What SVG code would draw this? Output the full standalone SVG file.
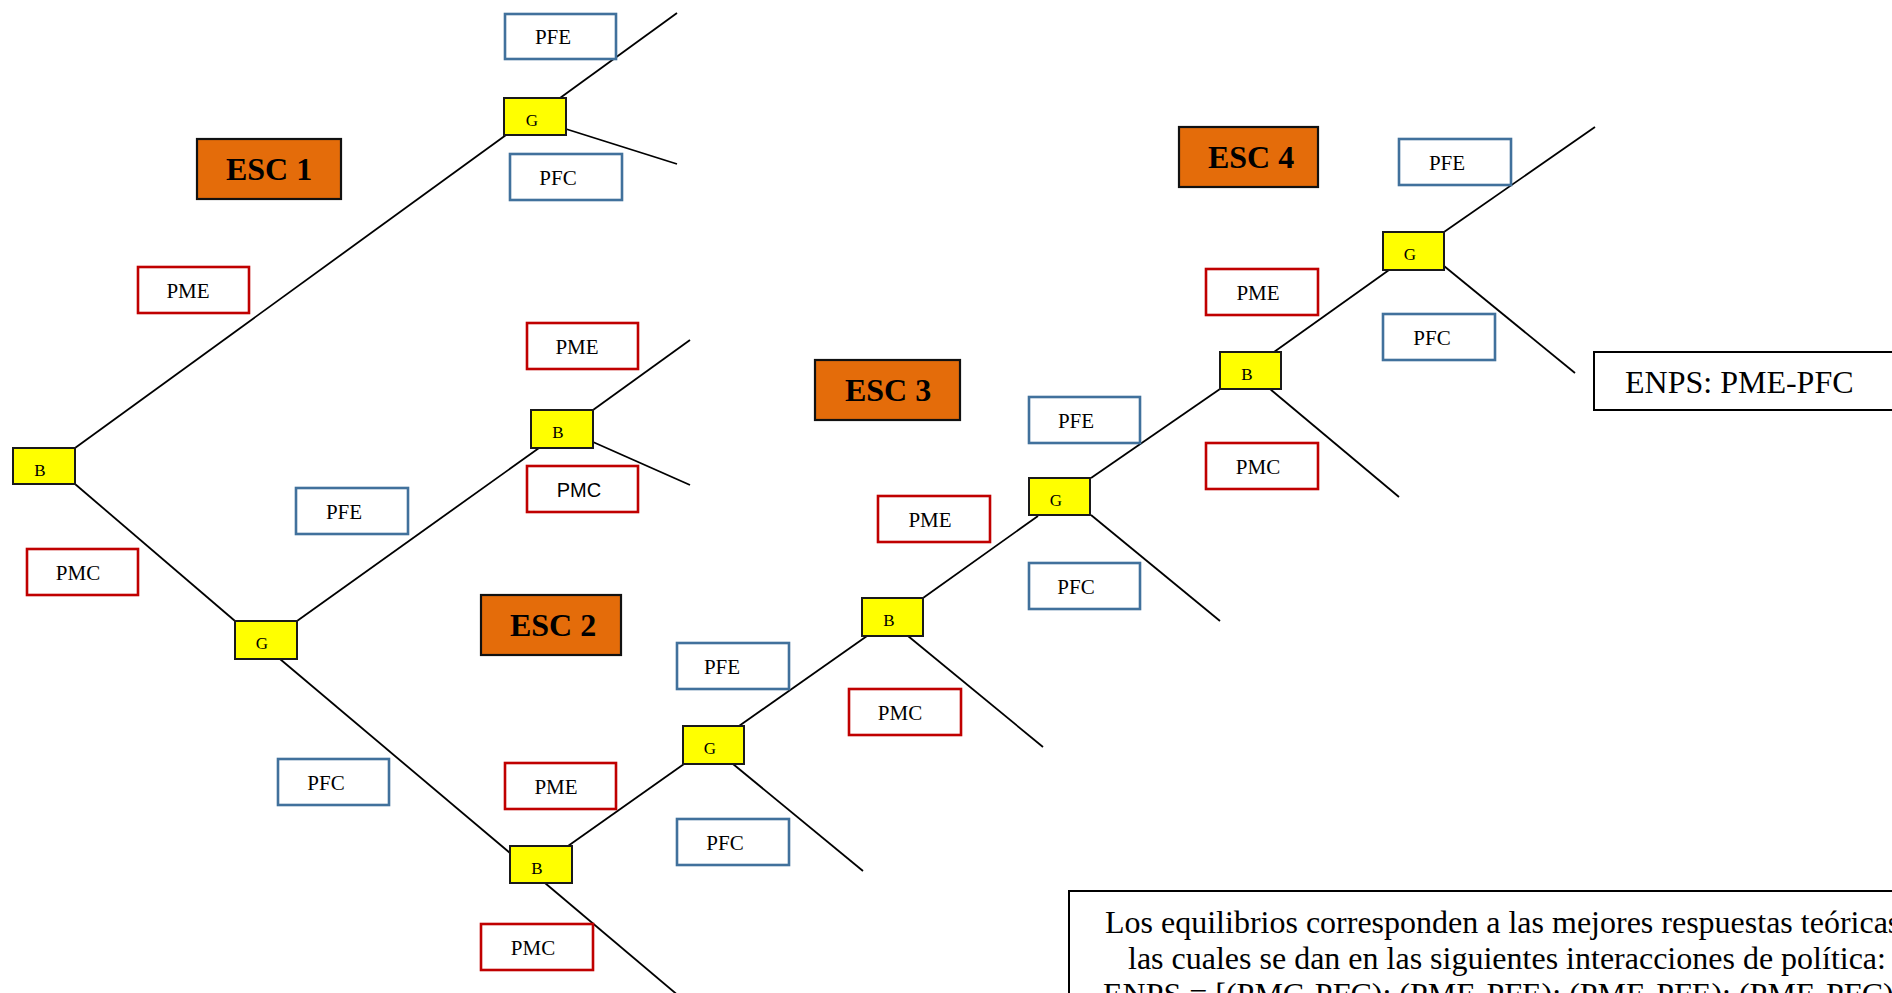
<svg xmlns="http://www.w3.org/2000/svg" width="1892" height="993" viewBox="0 0 1892 993">
<style>
.bg{fill:#ffffff}
.ln{stroke:#000;stroke-width:1.8;fill:none;stroke-linecap:butt}
.nd{fill:#FFFF00;stroke:#1a1a1a;stroke-width:2}
.nt{font-family:"Liberation Serif","Times New Roman",serif;font-size:17px;fill:#000;text-anchor:middle}
.esc{fill:#E46C0A;stroke:#111;stroke-width:2.2}
.et{font-family:"Liberation Serif","Times New Roman",serif;font-size:32px;font-weight:bold;fill:#000;text-anchor:middle}
.lr{fill:#fff;stroke:#C00000;stroke-width:2.6}
.lb{fill:#fff;stroke:#41719C;stroke-width:2.6}
.lt{font-family:"Liberation Serif","Times New Roman",serif;font-size:21px;fill:#000;text-anchor:middle}
.ls{font-family:"Liberation Sans",Arial,sans-serif;font-size:20px;fill:#000;text-anchor:middle}
.bx{fill:#fff;stroke:#000;stroke-width:2}
.bt{font-family:"Liberation Serif","Times New Roman",serif;font-size:32px;fill:#000}
</style>
<rect class="bg" x="0" y="0" width="1892" height="993"/>
<g id="connectors">
<line class="ln" x1="75" y1="448" x2="506" y2="135"/>
<line class="ln" x1="560" y1="98" x2="677" y2="13"/>
<line class="ln" x1="566" y1="129" x2="677" y2="164"/>
<line class="ln" x1="75" y1="484" x2="235" y2="621"/>
<line class="ln" x1="297" y1="621" x2="539" y2="448"/>
<line class="ln" x1="593" y1="410" x2="690" y2="340"/>
<line class="ln" x1="593" y1="442" x2="690" y2="485"/>
<line class="ln" x1="280" y1="659" x2="510" y2="853"/>
<line class="ln" x1="545" y1="883" x2="680" y2="997"/>
<line class="ln" x1="568" y1="846" x2="684" y2="764"/>
<line class="ln" x1="739" y1="726" x2="867" y2="636"/>
<line class="ln" x1="733" y1="764" x2="863" y2="871"/>
<line class="ln" x1="908" y1="636" x2="1043" y2="747"/>
<line class="ln" x1="923" y1="598" x2="1038" y2="516"/>
<line class="ln" x1="1091" y1="478" x2="1220" y2="389"/>
<line class="ln" x1="1091" y1="515" x2="1220" y2="621"/>
<line class="ln" x1="1270" y1="389" x2="1399" y2="497"/>
<line class="ln" x1="1274" y1="352" x2="1389" y2="270"/>
<line class="ln" x1="1444" y1="232" x2="1595" y2="127"/>
<line class="ln" x1="1444" y1="266" x2="1575" y2="373"/>
</g>
<g id="esc1"><rect class="esc" x="197" y="139" width="144" height="60"/><text class="et" x="269" y="180">ESC 1</text></g>
<g id="esc2"><rect class="esc" x="481" y="595" width="140" height="60"/><text class="et" x="553" y="636">ESC 2</text></g>
<g id="esc3"><rect class="esc" x="815" y="360" width="145" height="60"/><text class="et" x="888" y="401">ESC 3</text></g>
<g id="esc4"><rect class="esc" x="1179" y="127" width="139" height="60"/><text class="et" x="1251" y="168">ESC 4</text></g>
<g id="n-b1"><rect class="nd" x="13" y="448" width="62" height="36"/><text class="nt" x="40" y="476">B</text></g>
<g id="n-g1"><rect class="nd" x="504" y="98" width="62" height="37"/><text class="nt" x="532" y="126">G</text></g>
<g id="n-b3"><rect class="nd" x="531" y="410" width="62" height="38"/><text class="nt" x="558" y="438">B</text></g>
<g id="n-g4"><rect class="nd" x="235" y="621" width="62" height="38"/><text class="nt" x="262" y="649">G</text></g>
<g id="n-b5"><rect class="nd" x="510" y="846" width="62" height="37"/><text class="nt" x="537" y="874">B</text></g>
<g id="n-g6"><rect class="nd" x="683" y="726" width="61" height="38"/><text class="nt" x="710" y="754">G</text></g>
<g id="n-b7"><rect class="nd" x="862" y="598" width="61" height="38"/><text class="nt" x="889" y="626">B</text></g>
<g id="n-g8"><rect class="nd" x="1029" y="478" width="61" height="37"/><text class="nt" x="1056" y="506">G</text></g>
<g id="n-b9"><rect class="nd" x="1220" y="352" width="61" height="37"/><text class="nt" x="1247" y="380">B</text></g>
<g id="n-g10"><rect class="nd" x="1383" y="232" width="61" height="38"/><text class="nt" x="1410" y="260">G</text></g>
<g id="l1"><rect class="lb" x="505" y="14" width="111" height="45"/><text class="lt" x="553" y="44">PFE</text></g>
<g id="l2"><rect class="lb" x="510" y="154" width="112" height="46"/><text class="lt" x="558" y="185">PFC</text></g>
<g id="l3"><rect class="lr" x="138" y="267" width="111" height="46"/><text class="lt" x="188" y="298">PME</text></g>
<g id="l4"><rect class="lr" x="527" y="323" width="111" height="46"/><text class="lt" x="577" y="354">PME</text></g>
<g id="l5"><rect class="lr" x="527" y="466" width="111" height="46"/><text class="ls" x="579" y="497">PMC</text></g>
<g id="l6"><rect class="lb" x="296" y="488" width="112" height="46"/><text class="lt" x="344" y="519">PFE</text></g>
<g id="l7"><rect class="lr" x="27" y="549" width="111" height="46"/><text class="lt" x="78" y="580">PMC</text></g>
<g id="l8"><rect class="lb" x="278" y="759" width="111" height="46"/><text class="lt" x="326" y="790">PFC</text></g>
<g id="l9"><rect class="lr" x="505" y="763" width="111" height="46"/><text class="lt" x="556" y="794">PME</text></g>
<g id="l10"><rect class="lr" x="481" y="924" width="112" height="46"/><text class="lt" x="533" y="955">PMC</text></g>
<g id="l11"><rect class="lb" x="677" y="643" width="112" height="46"/><text class="lt" x="722" y="674">PFE</text></g>
<g id="l12"><rect class="lb" x="677" y="819" width="112" height="46"/><text class="lt" x="725" y="850">PFC</text></g>
<g id="l13"><rect class="lr" x="849" y="689" width="112" height="46"/><text class="lt" x="900" y="720">PMC</text></g>
<g id="l14"><rect class="lr" x="878" y="496" width="112" height="46"/><text class="lt" x="930" y="527">PME</text></g>
<g id="l15"><rect class="lb" x="1029" y="397" width="111" height="46"/><text class="lt" x="1076" y="428">PFE</text></g>
<g id="l16"><rect class="lb" x="1029" y="563" width="111" height="46"/><text class="lt" x="1076" y="594">PFC</text></g>
<g id="l17"><rect class="lr" x="1206" y="443" width="112" height="46"/><text class="lt" x="1258" y="474">PMC</text></g>
<g id="l18"><rect class="lr" x="1206" y="269" width="112" height="46"/><text class="lt" x="1258" y="300">PME</text></g>
<g id="l19"><rect class="lb" x="1399" y="139" width="112" height="46"/><text class="lt" x="1447" y="170">PFE</text></g>
<g id="l20"><rect class="lb" x="1383" y="314" width="112" height="46"/><text class="lt" x="1432" y="345">PFC</text></g>
<g id="enps"><rect class="bx" x="1594" y="352" width="310" height="58"/><text class="bt" x="1625" y="393">ENPS: PME-PFC</text></g>
<g id="note"><rect class="bx" x="1069" y="891" width="840" height="120"/>
<text class="bt" x="1105" y="933">Los equilibrios corresponden a las mejores respuestas teóricas</text>
<text class="bt" x="1128" y="969">las cuales se dan en las siguientes interacciones de política:</text>
<text class="bt" x="1103" y="1005">ENPS = [(PMC-PFC); (PME-PFE); (PME-PFE); (PME-PFC)</text>
</g>
</svg>
